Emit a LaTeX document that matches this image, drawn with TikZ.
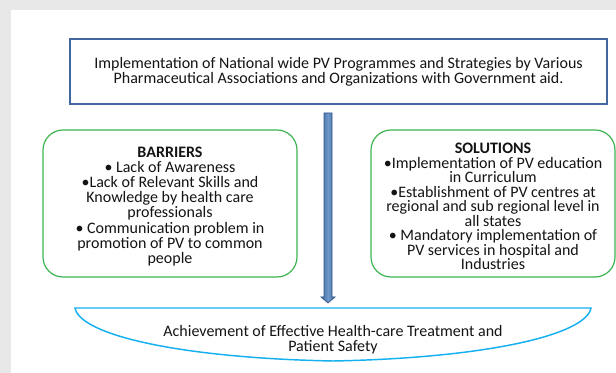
\documentclass[tikz,border=0pt]{standalone}
\usepackage{fontspec}
\setmainfont{Carlito}
\definecolor{cBack}{RGB}{232,232,232}
\definecolor{cFrame}{RGB}{65,105,160}
\definecolor{cGreen}{RGB}{60,180,80}
\definecolor{cSky}{RGB}{20,176,240}
\definecolor{cShaft}{RGB}{74,126,187}
\definecolor{cShaftE}{RGB}{50,85,140}
\definecolor{cText}{RGB}{20,20,20}

\begin{document}
\begin{tikzpicture}[
  x=0.75pt,y=-0.75pt, color=cText,
  font=\fontsize{12}{11.4}\selectfont,
  topbox/.style ={draw=cFrame, line width=0.9pt, align=center, inner sep=0pt,
                  minimum width=402.75pt, minimum height=48.75pt},
  greenbox/.style={draw=cGreen, line width=0.9pt, rounded corners=15pt},
  txt/.style    ={align=center, inner sep=0pt},
]

% ----- background ------------------------------------------------------
\useasboundingbox (0,0) rectangle (616,373);
\fill[cBack] (0,0) rectangle (616,373);
\fill[white] (11,10) rectangle (616,373);

% ----- programme box ---------------------------------------------------
\node[topbox] (prog) at (338.5,71.5)
  {Implementation of National wide PV Programmes and Strategies by Various\\
   Pharmaceutical Associations and Organizations with Government aid.};

% ----- barriers and solutions ------------------------------------------
\draw[greenbox] (43,130) rectangle (297,277);
\draw[greenbox] (371,130) rectangle (615,277);
\node[txt, font=\fontsize{12}{11.3}\selectfont] (barr) at (170,206.5)
  {\textbf{BARRIERS}\\
   • Lack of Awareness\\
   •Lack of Relevant Skills and\\
   Knowledge by health care\\
   professionals\\
   • Communication problem in\\
   promotion of PV to common\\
   people};
\node[txt, font=\fontsize{12}{10.9}\selectfont] (sol) at (493,206.5)
  {\textbf{SOLUTIONS}\\
   •Implementation of PV education\\
   in Curriculum\\
   •Establishment of PV centres at\\
   regional and sub regional level in\\
   all states\\
   • Mandatory implementation of\\
   PV services in hospital and\\
   Industries};

% ----- goal: flat-topped bowl ------------------------------------------
\draw[cSky, line width=1.1pt]
  (75,308) -- (591,308)
  .. controls (586,335) and (486,358) .. (333,361)
  .. controls (180,358) and (80,335) .. (75,308) -- cycle;
\node[txt] (goal) at (333,340)
  {Achievement of Effective Health-care Treatment and\\
   Patient Safety};

% ----- block arrow -----------------------------------------------------
\coordinate (aTop) at (328,113);
\coordinate (aTip) at (328,303);
\shadedraw[left color=cShaft!85!black, right color=cShaft!85!black,
           middle color=cShaft!80!white, draw=cShaftE, line width=0.5pt]
  ([xshift=-3pt]aTop) -- ([xshift=3pt]aTop) -- (332,297) -- (335,297)
  -- (aTip) -- (321,297) -- (324,297) -- cycle;

\end{tikzpicture}
\end{document}
